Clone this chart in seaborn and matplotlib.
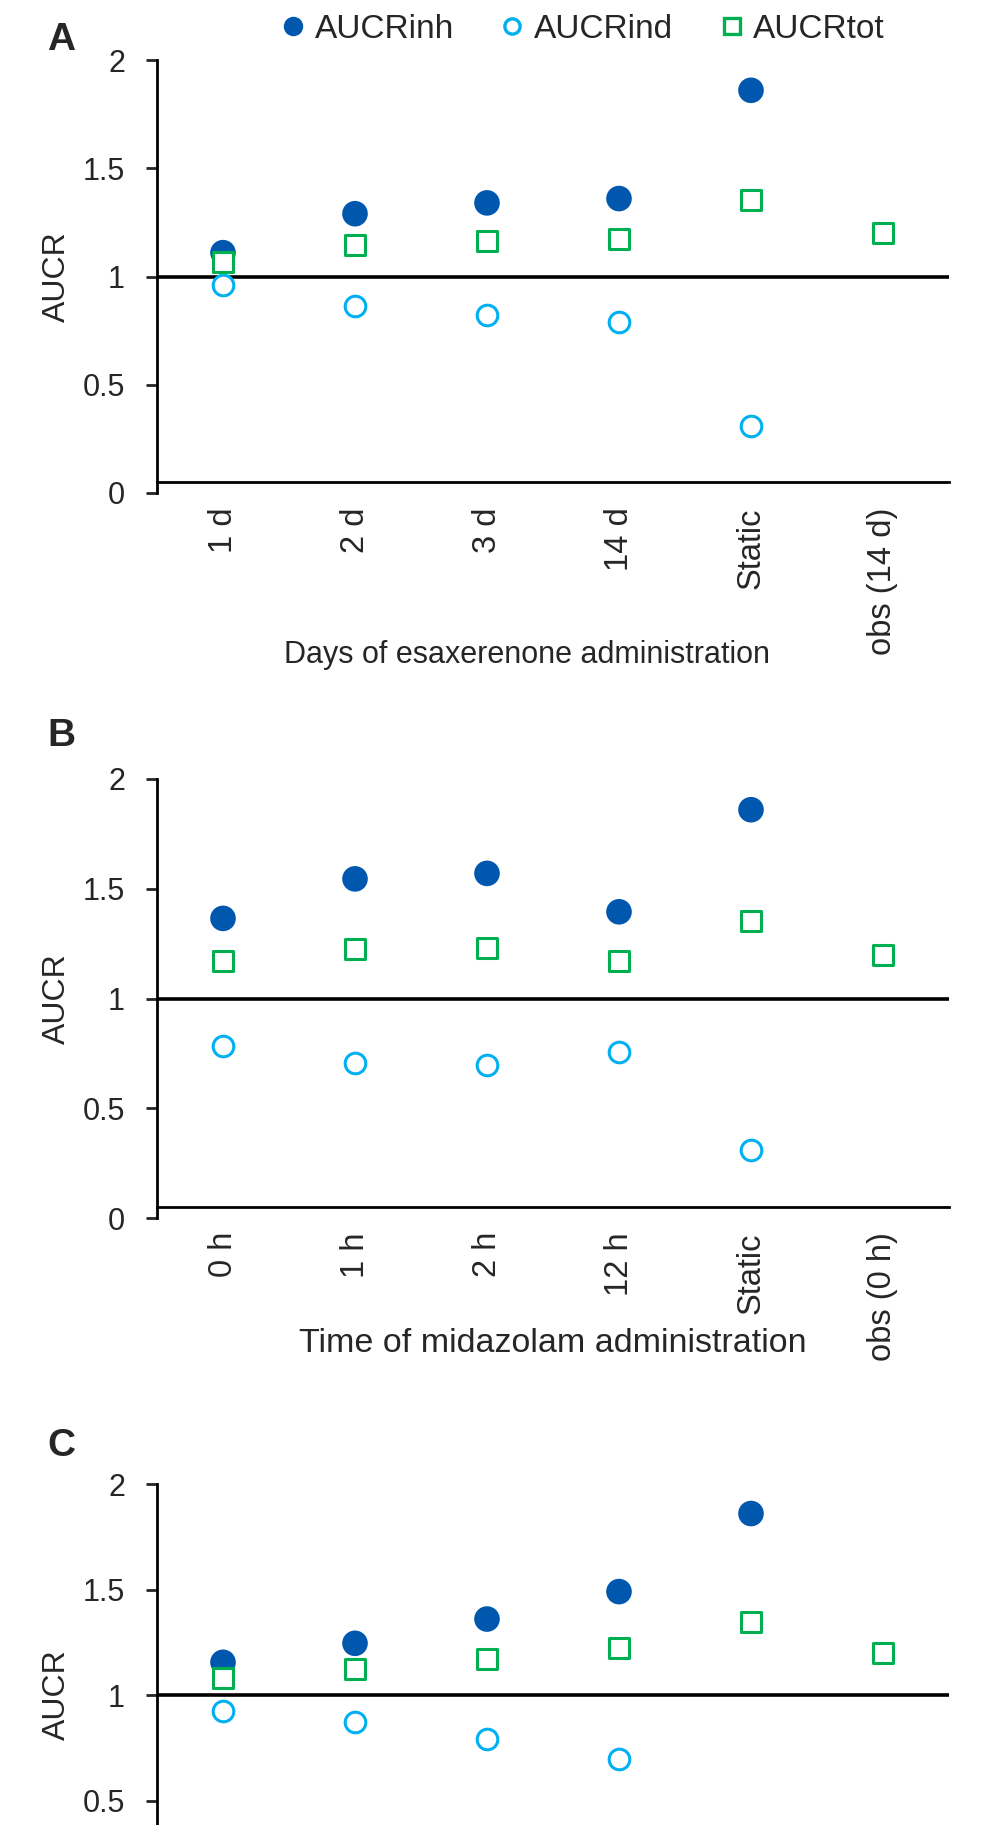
import numpy as np
import matplotlib
matplotlib.use("Agg")
import matplotlib.pyplot as plt
from matplotlib.lines import Line2D
import seaborn as sns

# ---- data ----
cats_a = ["1 d", "2 d", "3 d", "14 d", "Static", "obs (14 d)"]
inh_a = [1.11, 1.29, 1.34, 1.36, 1.86, np.nan]
ind_a = [0.96, 0.865, 0.82, 0.79, 0.31, np.nan]
tot_a = [1.065, 1.145, 1.165, 1.175, 1.355, 1.20]

cats_b = ["0 h", "1 h", "2 h", "12 h", "Static", "obs (0 h)"]
inh_b = [1.365, 1.545, 1.57, 1.395, 1.86, np.nan]
ind_b = [0.785, 0.705, 0.695, 0.755, 0.31, np.nan]
tot_b = [1.17, 1.225, 1.23, 1.17, 1.355, 1.20]

# panel C is cut by the bottom edge, its tick labels are not visible
cats_c = ["", "", "", "", "", ""]
inh_c = [1.155, 1.245, 1.36, 1.49, 1.86, np.nan]
ind_c = [0.925, 0.87, 0.79, 0.695, np.nan, np.nan]
tot_c = [1.08, 1.125, 1.17, 1.225, 1.345, 1.20]

C_INH = "#0057AE"
C_IND = "#00B0F0"
C_TOT = "#00B050"

sns.set_style("white")
plt.rcParams["font.family"] = ["Liberation Sans", "DejaVu Sans"]

W, H = 1000, 1825
fig = plt.figure(figsize=(W / 100, H / 100), dpi=100)


def px_axes(top, bottom, left=157, right=949):
    # axes rect from pixel positions of the y=2 and y=0 ticks
    return [left / W, 1 - bottom / H, (right - left) / W, (bottom - top) / H]


def draw_panel(ax, cats, inh, ind, tot):
    x = np.arange(len(cats))
    ax.axhline(1, color="black", lw=2.6, zorder=2)
    sns.scatterplot(x=x, y=inh, ax=ax, marker="o", s=340, color=C_INH,
                    edgecolor="none", linewidth=0, zorder=3, clip_on=False)
    sns.scatterplot(x=x, y=ind, ax=ax, marker="o", s=220, facecolor="white",
                    edgecolor=C_IND, linewidth=2.2, zorder=4, clip_on=False)
    sns.scatterplot(x=x, y=tot, ax=ax, marker="s", s=225, facecolor="white",
                    edgecolor=C_TOT, linewidth=2.2, zorder=5, clip_on=False)

    ax.set_xlim(-0.5, len(cats) - 0.5)
    ax.set_ylim(0, 2)
    ax.set_yticks([0, 0.5, 1, 1.5, 2], ["0", "0.5", "1", "1.5", "2"])
    ax.set_xticks(x, cats)
    ax.tick_params(axis="y", direction="out", length=8, width=2, pad=15,
                   labelsize=22, left=True)
    ax.tick_params(axis="x", length=0, pad=18, labelsize=23.5, labelrotation=90)

    for side in ["top", "right"]:
        ax.spines[side].set_visible(False)
    ax.spines["left"].set_linewidth(2)
    ax.spines["left"].set_color("black")
    ax.spines["bottom"].set_linewidth(2)
    ax.spines["bottom"].set_color("black")
    ax.spines["bottom"].set_position(("data", 0.05))

    ax.set_ylabel("AUCR", fontsize=23)
    ax.yaxis.set_label_coords(-0.126, 0.5)
    ax.yaxis.label.set_va("center")


ax_a = fig.add_axes(px_axes(60, 493))
draw_panel(ax_a, cats_a, inh_a, ind_a, tot_a)
ax_a.set_xlabel("Days of esaxerenone administration", fontsize=22)
ax_a.xaxis.set_label_coords(0.467, (493 - 655) / 433)
ax_a.xaxis.label.set_va("center")

ax_b = fig.add_axes(px_axes(779, 1218))
draw_panel(ax_b, cats_b, inh_b, ind_b, tot_b)
ax_b.set_xlabel("Time of midazolam administration", fontsize=24.5)
ax_b.xaxis.set_label_coords(0.5, (1218 - 1343) / 439)
ax_b.xaxis.label.set_va("center")

ax_c = fig.add_axes(px_axes(1484, 1906))
draw_panel(ax_c, cats_c, inh_c, ind_c, tot_c)

# panel letters
for letter, y in [("A", 40), ("B", 736), ("C", 1446)]:
    fig.text(61 / W, 1 - y / H, letter, fontsize=28, fontweight="bold",
             ha="center", va="center")

handles = [
    Line2D([], [], ls="none", marker="o", ms=14, mfc=C_INH, mec=C_INH, mew=0),
    Line2D([], [], ls="none", marker="o", ms=11, mfc="white", mec=C_IND, mew=2.4),
    Line2D([], [], ls="none", marker="s", ms=11.5, mfc="white", mec=C_TOT, mew=2.4),
]
fig.legend(handles, ["AUCRinh", "AUCRind", "AUCRtot"], loc="center",
           bbox_to_anchor=(584 / W, 1 - 29 / H), ncol=3, frameon=False,
           fontsize=24, handlelength=0.6, handletextpad=0.35,
           columnspacing=1.45, borderpad=0)

fig.savefig("out.png", dpi=100)
